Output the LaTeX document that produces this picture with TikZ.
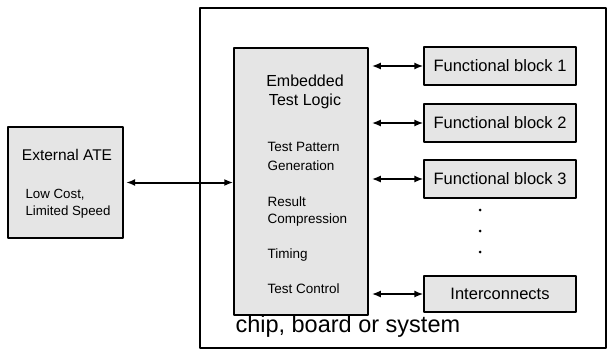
\documentclass[tikz,border=0pt]{standalone}
\usepackage{fontspec}
\setmainfont{Liberation Sans}
\usetikzlibrary{arrows.meta}
\tikzset{
  block/.style={draw=black, fill=gray!20, line width=1.2pt, inner sep=0pt},
  link/.style={{Latex[length=9pt,width=7pt]}-{Latex[length=9pt,width=7pt]}, line width=2pt},
  big/.style={font=\fontsize{16}{19}\selectfont},
  small/.style={font=\fontsize{13.5}{16}\selectfont, anchor=west},
}
\begin{document}
\begin{tikzpicture}[x=1pt, y=-1pt, line cap=round, line join=round]
\useasboundingbox (0,0) rectangle (609,354);
% Outer system box
\node [draw=black, line width=1.3pt, minimum width=406pt, minimum height=340pt] (system) at (403,178) {};
\node [anchor=base west, font=\fontsize{23.5}{28}\selectfont] (system-label) at (232,332) {chip, board or system};
% External tester
\node [block, line width=2.2pt, minimum width=115pt, minimum height=111pt] (ate) at (65.5,182.5) {};
\node [font=\fontsize{15.5}{18}\selectfont] (ate-title) at (67,155) {External ATE};
\node [small, font=\fontsize{13.3}{16}\selectfont] (ate-cost) at (22,195) {Low Cost,};
\node [small, font=\fontsize{13.3}{16}\selectfont] (ate-speed) at (22,212) {Limited Speed};
% Embedded test logic
\node [block, line width=1.5pt, minimum width=134pt, minimum height=267pt] (etl) at (301,181.5) {};
\node [big] (etl-1) at (305,81) {Embedded};
\node [big] (etl-2) at (305,101) {Test Logic};
\node [small] (etl-3) at (264,147) {Test Pattern};
\node [small] (etl-4) at (264,166) {Generation};
\node [small] (etl-5) at (264,202) {Result};
\node [small] (etl-6) at (264,220) {Compression};
\node [small] (etl-7) at (264,255) {Timing};
\node [small] (etl-8) at (264,289) {Test Control};
% Functional blocks
\foreach \i/\y in {1/66, 2/123, 3/179}
  \node [block, minimum width=152pt, minimum height=38pt, font=\fontsize{16.5}{19}\selectfont] (fb-\i) at (500,\y) {Functional block \i};
\node [block, minimum width=152pt, minimum height=36pt, font=\fontsize{16.5}{19}\selectfont] (ic) at (500,294) {Interconnects};
% Dots
\foreach \y [count=\i] in {210, 231, 252}
  \node [circle, fill=black, inner sep=0pt, minimum size=3pt] (dot-\i) at (480,\y) {};
% Arrows
\draw [link, shorten <=2pt] (ate.east) -- (ate.east -| etl.west);
\foreach \b in {fb-1, fb-2, fb-3, ic}
  \draw [link, shorten <=3pt] (\b.west -| etl.east) -- (\b.west);
\end{tikzpicture}
\end{document}
